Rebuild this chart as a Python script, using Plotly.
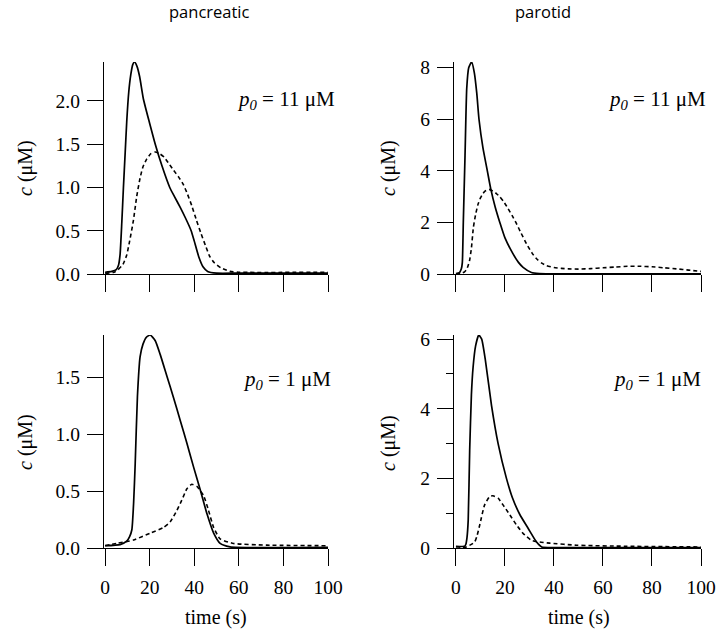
import plotly.graph_objects as go

W, H = 720, 629

# ---------------- data ----------------
# pancreatic, p0 = 11 uM
pan11_solid_t = [0, 3, 5, 6, 6.7, 7.5, 8.2, 9.0, 9.7, 10.6, 11.5, 12.4, 13.2, 14.3, 15.5, 17.2, 20, 22.5, 25.5, 29, 31, 33.7, 36, 38.6, 40, 42, 44, 46, 50, 60, 100]
pan11_solid_v = [0.02, 0.03, 0.05, 0.1, 0.22, 0.6, 0.99, 1.4, 1.76, 2.1, 2.3, 2.42, 2.45, 2.4, 2.28, 2.02, 1.74, 1.5, 1.25, 1.0, 0.9, 0.77, 0.65, 0.5, 0.38, 0.2, 0.08, 0.03, 0.01, 0.01, 0.01]
pan11_dash_t = [0, 4, 5.8, 8, 9.7, 11, 12.7, 14.2, 15.7, 17, 18.7, 20.5, 22.5, 24.5, 26.5, 28.5, 30.7, 33, 35, 37, 39, 41, 43, 45, 47, 49, 52, 56, 60, 100]
pan11_dash_v = [0.01, 0.02, 0.05, 0.11, 0.22, 0.38, 0.62, 0.9, 1.11, 1.24, 1.33, 1.39, 1.41, 1.39, 1.35, 1.28, 1.2, 1.12, 1.04, 0.92, 0.78, 0.62, 0.47, 0.33, 0.2, 0.13, 0.07, 0.03, 0.02, 0.02]

# parotid, p0 = 11 uM
par11_solid_t = [0, 1.4, 2.2, 2.6, 3.0, 3.7, 4.4, 5.2, 6.4, 7.5, 8.5, 9.4, 11, 12.8, 14.2, 16, 17.9, 20, 23.3, 25.5, 27.4, 30.8, 34, 100]
par11_solid_v = [0.02, 0.05, 0.2, 0.44, 2.0, 4.6, 7.2, 8.0, 8.22, 7.8, 7.0, 6.0, 4.9, 4.0, 3.3, 2.6, 2.0, 1.4, 0.78, 0.45, 0.26, 0.06, 0.02, 0.01]
par11_dash_t = [0, 2, 3.5, 4.4, 5.5, 6.3, 7.1, 8, 9, 10, 11, 12, 13.5, 15, 16.5, 18, 19.5, 21.3, 23, 24.7, 26.5, 28.8, 31, 33, 35, 37, 40, 43, 46, 50, 55, 60, 65, 70, 75, 80, 85, 90, 95, 100]
par11_dash_v = [0.0, 0.02, 0.08, 0.18, 0.5, 1.0, 1.8, 2.3, 2.7, 2.95, 3.12, 3.22, 3.28, 3.22, 3.12, 2.98, 2.8, 2.53, 2.25, 1.95, 1.6, 1.17, 0.82, 0.58, 0.42, 0.32, 0.25, 0.22, 0.2, 0.19, 0.21, 0.24, 0.27, 0.3, 0.3, 0.28, 0.24, 0.2, 0.15, 0.1]

# pancreatic, p0 = 1 uM
pan1_solid_t = [0, 6.7, 9.7, 11, 12, 12.8, 13.5, 14.5, 15.7, 17, 18.5, 20.2, 22.5, 24.7, 27.7, 30.7, 33.7, 36.7, 39.7, 42.7, 45.7, 48.7, 51.6, 56, 100]
pan1_solid_v = [0.02, 0.03, 0.06, 0.1, 0.16, 0.4, 0.74, 1.33, 1.68, 1.79, 1.85, 1.87, 1.82, 1.70, 1.51, 1.32, 1.12, 0.92, 0.71, 0.51, 0.30, 0.13, 0.04, 0.01, 0.005]
pan1_dash_t = [0, 5.2, 12.7, 20.2, 26.2, 29.2, 32.2, 34.4, 36.7, 38.9, 41.2, 44.2, 46.4, 48.7, 51.6, 57.6, 72.6, 100]
pan1_dash_v = [0.02, 0.04, 0.07, 0.13, 0.18, 0.23, 0.33, 0.42, 0.52, 0.56, 0.54, 0.46, 0.33, 0.18, 0.08, 0.04, 0.025, 0.02]

# parotid, p0 = 1 uM
par1_solid_t = [0, 3.5, 4.0, 4.5, 5.0, 5.6, 6.3, 7.0, 8.0, 9.3, 10.5, 12, 14.5, 17.2, 20.6, 23, 26, 29.5, 32.9, 35, 40, 100]
par1_solid_v = [0.05, 0.05, 0.1, 0.3, 0.8, 2.8, 4.4, 5.2, 5.8, 6.12, 6.0, 5.4, 4.1, 3.0, 2.0, 1.45, 0.97, 0.56, 0.17, 0.03, 0.01, 0.01]
par1_dash_t = [0, 4.2, 7.6, 8.6, 9.7, 11.7, 13.8, 15.1, 17.2, 19.2, 22, 24.7, 27.4, 30.8, 34.2, 38.3, 49.2, 69.7, 100]
par1_dash_v = [0.0, 0.03, 0.17, 0.35, 0.66, 1.24, 1.48, 1.50, 1.43, 1.24, 0.95, 0.66, 0.42, 0.22, 0.17, 0.14, 0.08, 0.05, 0.03]

x_ticks = [0, 20, 40, 60, 80, 100]
pan11_yticks = [0.0, 0.5, 1.0, 1.5, 2.0]
par11_yticks = [0, 2, 4, 6, 8]
pan1_yticks = [0.0, 0.5, 1.0, 1.5]
par1_yticks = [0, 2, 4, 6]

col_titles = ["pancreatic", "parotid"]
p0_labels = ["<i>p</i><sub><i>0</i></sub> = 11 μM", "<i>p</i><sub><i>0</i></sub> = 1 μM"]
y_title = "<i>c</i> (μM)"
x_title = "time (s)"

# ---------------- layout helpers (window pixels -> paper) ----------------
def px_x(p):
    return p / W

def px_y(p):
    return 1 - p / H

SERIF = "Liberation Serif"
LW = 1.3
TICKFONT = dict(family=SERIF, size=19.5, color="black")

fig = go.Figure()

panels = [
    ("x", "y", (pan11_solid_t, pan11_solid_v), (pan11_dash_t, pan11_dash_v), (104, 328), (62, 274), (-0.5, 100), (0, 2.45), pan11_yticks, ".1f", False, None),
    ("x2", "y2", (par11_solid_t, par11_solid_v), (par11_dash_t, par11_dash_v), (454, 701), (62, 274), (-0.8, 100), (0, 8.22), par11_yticks, "d", False, None),
    ("x3", "y3", (pan1_solid_t, pan1_solid_v), (pan1_dash_t, pan1_dash_v), (104, 328), (335, 548), (-0.5, 100), (0, 1.87), pan1_yticks, ".1f", True, None),
    ("x4", "y4", (par1_solid_t, par1_solid_v), (par1_dash_t, par1_dash_v), (454, 701), (335, 548), (-0.8, 100), (0, 6.12), par1_yticks, "d", True, 1),
]

layout = {}
for (xa, ya, solid, dash, xd, yd, xr, yr, yt, fmt, showx, minor) in panels:
    fig.add_trace(go.Scatter(x=dash[0], y=dash[1], mode="lines", xaxis=xa, yaxis=ya,
                             line=dict(color="black", width=1.6, dash="4px,3px", shape="spline", smoothing=0.5),
                             showlegend=False, hoverinfo="skip"))
    fig.add_trace(go.Scatter(x=solid[0], y=solid[1], mode="lines", xaxis=xa, yaxis=ya,
                             line=dict(color="black", width=1.7, shape="spline", smoothing=0.5),
                             showlegend=False, hoverinfo="skip"))
    xkey = "xaxis" + xa[1:]
    ykey = "yaxis" + ya[1:]
    layout[xkey] = dict(domain=[px_x(xd[0]), px_x(xd[1])], range=list(xr), anchor=ya, automargin=False,
                        showgrid=False, zeroline=False, showline=True, linecolor="black", linewidth=LW,
                        ticks="outside", ticklen=17, tickwidth=LW, tickcolor="black",
                        tickvals=x_ticks, showticklabels=showx, tickfont=TICKFONT,
                        ticklabelstandoff=4, fixedrange=True)
    yax = dict(domain=[px_y(yd[1]), px_y(yd[0])], range=list(yr), anchor=xa, automargin=False,
               showgrid=False, zeroline=False, showline=True, linecolor="black", linewidth=LW,
               ticks="outside", ticklen=16, tickwidth=LW, tickcolor="black",
               tickvals=yt, tickformat=fmt, tickfont=TICKFONT, ticklabelstandoff=3, fixedrange=True)
    if minor:
        yax["minor"] = dict(ticks="outside", ticklen=7, tickwidth=LW, tickcolor="black", dtick=minor, showgrid=False)
    layout[ykey] = yax

annotations = []
for txt, cx in zip(col_titles, [209, 543]):
    annotations.append(dict(text=txt, x=px_x(cx), y=px_y(11), xref="paper", yref="paper",
                            xanchor="center", yanchor="middle", showarrow=False,
                            font=dict(family="Open Sans", size=16.5, color="black")))
for cx, cy in [(25, 168), (388, 168), (25, 442), (388, 443)]:
    annotations.append(dict(text=y_title, x=px_x(cx), y=px_y(cy), xref="paper", yref="paper",
                            xanchor="center", yanchor="middle", showarrow=False, textangle=-90,
                            font=dict(family=SERIF, size=20, color="black")))
for cx in [216, 579]:
    annotations.append(dict(text=x_title, x=px_x(cx), y=px_y(617), xref="paper", yref="paper",
                            xanchor="center", yanchor="middle", showarrow=False,
                            font=dict(family=SERIF, size=20, color="black")))
for txt, rx, cy in [(p0_labels[0], 337, 100), (p0_labels[0], 708, 100), (p0_labels[1], 333, 380), (p0_labels[1], 703, 380)]:
    annotations.append(dict(text=txt, x=px_x(rx), y=px_y(cy), xref="paper", yref="paper",
                            xanchor="right", yanchor="middle", showarrow=False,
                            font=dict(family=SERIF, size=21, color="black")))

fig.update_layout(width=W, height=H, margin=dict(l=0, r=0, t=0, b=0),
                  paper_bgcolor="white", plot_bgcolor="white",
                  annotations=annotations, **layout)

fig.write_html("out.html", config={"displayModeBar": False},
               post_script="document.body.style.margin='0px';")
